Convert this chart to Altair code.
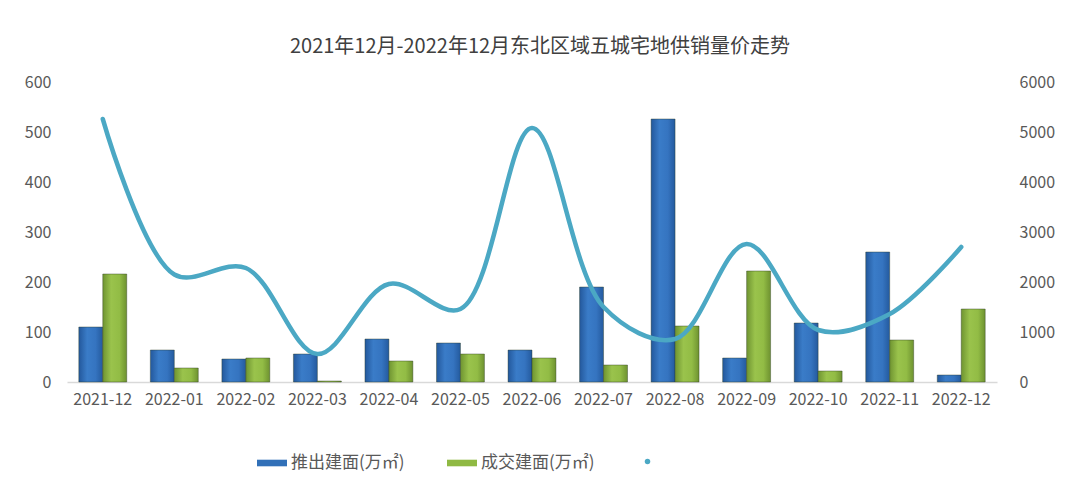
import altair as alt
import pandas as pd

months = ["2021-12", "2022-01", "2022-02", "2022-03", "2022-04", "2022-05", "2022-06",
          "2022-07", "2022-08", "2022-09", "2022-10", "2022-11", "2022-12"]
supply = [110, 64, 46, 56, 86, 78, 64, 190, 526, 48, 118, 260, 14]   # 推出建面(万㎡)
deal = [216, 28, 48, 2, 42, 56, 48, 34, 112, 222, 22, 84, 146]       # 成交建面(万㎡)
price = [5260, 2150, 2280, 560, 1960, 1460, 5080, 1500, 860, 2760, 1040, 1360, 2700]

S1 = "推出建面(万㎡)"
S2 = "成交建面(万㎡)"
S3 = " "

bars = pd.DataFrame({
    "month": months * 2,
    "series": [S1] * len(months) + [S2] * len(months),
    "value": supply + deal,
})
line_df = pd.DataFrame({"month": months, "price": price, "series": [S3] * len(months)})

FONT = "Noto Sans CJK SC"
TXT = "#595959"
LINE = "#4BA8C4"
BLUE = "#3170B8"
GREEN = "#8FB943"

grad_blue = alt.LinearGradient(gradient="linear", x1=0, x2=1, y1=0, y2=0, stops=[
    alt.GradientStop(color="#23589C", offset=0),
    alt.GradientStop(color="#3A7CC8", offset=0.35),
    alt.GradientStop(color="#3574C0", offset=0.7),
    alt.GradientStop(color="#245A9E", offset=1),
])
grad_green = alt.LinearGradient(gradient="linear", x1=0, x2=1, y1=0, y2=0, stops=[
    alt.GradientStop(color="#6F9431", offset=0),
    alt.GradientStop(color="#9AC34C", offset=0.35),
    alt.GradientStop(color="#92BC45", offset=0.7),
    alt.GradientStop(color="#6E9230", offset=1),
])

xscale = alt.Scale(domain=months, paddingInner=0.33, paddingOuter=0.165)

bar_legend = alt.Legend(
    title=None, orient="none", legendX=190, legendY=366, direction="horizontal",
    labelFont=FONT, labelFontSize=17, labelColor=TXT, labelOffset=4,
    columnPadding=42, symbolSize=900, symbolStrokeWidth=0,
    symbolType="M-1,-0.22H1V0.22H-1Z",
)
line_legend = alt.Legend(
    title=None, orient="none", legendX=572, legendY=371, direction="horizontal",
    labelFont=FONT, labelFontSize=17, labelColor=TXT,
    symbolSize=30, symbolType="circle", symbolStrokeWidth=0, symbolFillColor=LINE,
)

x_enc = alt.X("month:N", scale=xscale, sort=months, title=None,
              axis=alt.Axis(labelAngle=0, labelFont=FONT, labelFontSize=16, labelColor=TXT,
                            labelPadding=9, ticks=False, domainColor="#D9D9D9", domainWidth=1.5))
xo_enc = alt.XOffset("series:N", sort=[S1, S2], scale=alt.Scale(domain=[S1, S2]))
y_enc = alt.Y("value:Q", scale=alt.Scale(domain=[0, 600]), title=None,
              axis=alt.Axis(values=[0, 100, 200, 300, 400, 500, 600], grid=False, domain=False,
                            ticks=False, labelFont=FONT, labelFontSize=16, labelColor=TXT,
                            labelPadding=16))

bar_layer = alt.Chart(bars).mark_bar(strokeWidth=0.8, strokeOpacity=0.5, stroke="#2a3a20").encode(
    x=x_enc, xOffset=xo_enc, y=y_enc,
    fill=alt.condition(alt.datum.series == S1, alt.value(grad_blue), alt.value(grad_green)),
)

# zero-height bars that only carry the colour legend
legend_layer = alt.Chart(bars).mark_bar(strokeWidth=0).encode(
    x=alt.X("month:N", scale=xscale, sort=months, title=None),
    xOffset=xo_enc,
    y=alt.Y("value:Q"), y2=alt.Y2("value:Q"),
    color=alt.Color("series:N", scale=alt.Scale(domain=[S1, S2], range=[BLUE, GREEN]),
                    legend=bar_legend),
)

line_layer = alt.Chart(line_df).mark_line(interpolate="catmull-rom", strokeWidth=4.5,
                                           strokeCap="round").encode(
    x=alt.X("month:N", scale=xscale, sort=months, title=None),
    y=alt.Y("price:Q", scale=alt.Scale(domain=[0, 6000]), title=None,
            axis=alt.Axis(orient="right", values=[0, 1000, 2000, 3000, 4000, 5000, 6000],
                          format="d", grid=False, domain=False, ticks=False, labelFont=FONT,
                          labelFontSize=16, labelColor=TXT, labelPadding=22)),
    color=alt.Color("series:N", scale=alt.Scale(domain=[S3], range=[LINE]),
                    legend=line_legend),
)

bars_combined = alt.layer(bar_layer, legend_layer)

chart = alt.layer(bars_combined, line_layer).resolve_scale(
    y="independent", color="independent"
).resolve_legend(color="independent").properties(
    width=930, height=300,
    padding={"left": 67, "top": 82, "right": 83, "bottom": 108},
    autosize=alt.AutoSizeParams(type="none"),
    title=alt.TitleParams("2021年12月-2022年12月东北区域五城宅地供销量价走势", font=FONT,
                          fontSize=20, fontWeight="normal", color="#404040", offset=17, dx=8),
    background="white",
).configure_view(stroke=None)

chart.save("out.html", embed_options={"renderer": "svg", "actions": False})
